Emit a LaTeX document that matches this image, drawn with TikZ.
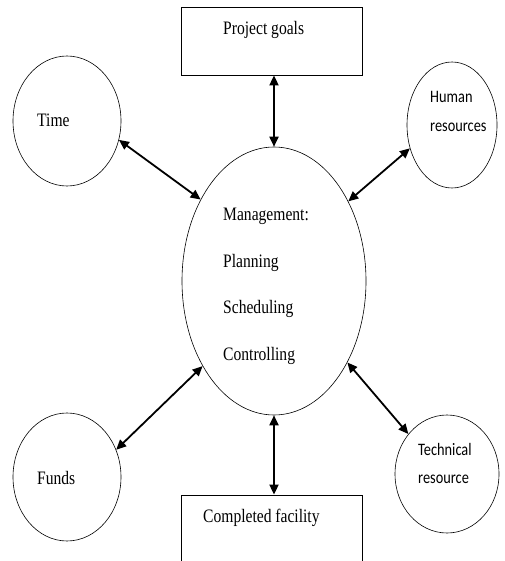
\documentclass[tikz,border=0pt]{standalone}
\usepackage{fontspec}
\setmainfont{Liberation Serif}[FakeStretch=0.82]
\newfontfamily\calib{Carlito}[FakeStretch=0.82]
\usetikzlibrary{shapes.geometric,arrows.meta}
\tikzset{
  oval/.style={draw, ellipse, line width=0.6pt, inner sep=0pt},
  boxnode/.style={draw, line width=0.8pt, inner sep=0pt},
  lbl/.style={anchor=base west, inner sep=0pt, font=\fontsize{19}{19}\selectfont},
  slbl/.style={anchor=base west, inner sep=0pt, font=\calib\fontsize{17.5}{17}\selectfont},
  link/.style={line width=1.8pt,
    {Triangle[length=10pt,width=9pt]}-{Triangle[length=10pt,width=9pt]}}
}
\begin{document}
\begin{tikzpicture}[x=1pt,y=-1pt]
\useasboundingbox (0,0) rectangle (504,561);

% central management ellipse
\node[oval, minimum width=184pt, minimum height=268pt] (mgmt) at (274,281) {};
\node[lbl] (m1) at (223,220) {Management:};
\node[lbl] (m2) at (223,267) {Planning};
\node[lbl] (m3) at (223,313) {Scheduling};
\node[lbl] (m4) at (223,360) {Controlling};

% goal and output boxes
\node[boxnode, minimum width=181pt, minimum height=68pt] (goals) at (271.5,41) {};
\node[lbl] (goalsT) at (223,35) {Project goals};
\node[boxnode, minimum width=181pt, minimum height=125pt] (facility) at (271.5,557.5) {};
\node[lbl] (facilityT) at (203,522) {Completed facility};

% resource circles
\node[oval, minimum width=108pt, minimum height=130pt] (time) at (67,121) {};
\node[lbl] (timeT) at (37,127) {Time};
\node[oval, minimum width=108pt, minimum height=128pt] (funds) at (67,477) {};
\node[lbl] (fundsT) at (37,484) {Funds};
\node[oval, minimum width=90pt, minimum height=126pt] (human) at (452,125) {};
\node[slbl] (human1) at (430,103) {Human};
\node[slbl] (human2) at (430,132) {resources};
\node[oval, minimum width=104pt, minimum height=118pt] (tech) at (447,474) {};
\node[slbl] (tech1) at (418,455) {Technical};
\node[slbl] (tech2) at (418,483) {resource};

% two-way links
\draw[link] (goals.south -| mgmt.north) -- (mgmt.north);
\draw[link] (mgmt.south) -- (mgmt.south |- facility.north);
\draw[link] (time.-20) -- (mgmt.132);
\draw[link] (mgmt.47) -- (human.209);
\draw[link] (mgmt.-48) -- (tech.134);
\draw[link] (mgmt.230) -- (funds.29);
\end{tikzpicture}
\end{document}
